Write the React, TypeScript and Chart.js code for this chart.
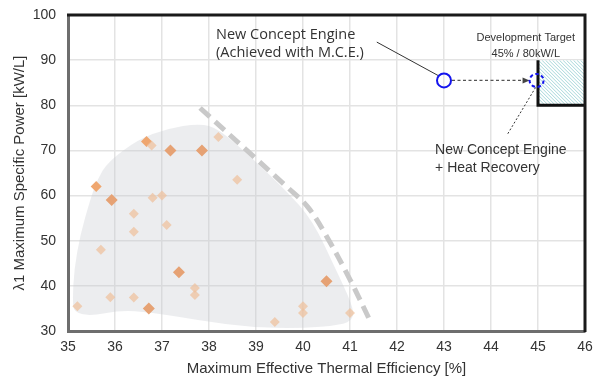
import React, { useEffect, useRef } from "react";
import { Chart, registerables } from "chart.js";
Chart.register(...registerables);

// ---- data ----
const lightEff = [36.78, 38.2, 38.6, 36.8, 37.0, 36.4, 36.4, 37.1, 35.7, 37.7, 37.7, 35.9, 36.4, 35.2, 39.4, 40.0, 40.0, 41.0];
const lightPow = [71.1, 73.0, 63.5, 59.5, 60.0, 56.0, 52.0, 53.5, 48.0, 39.5, 38.0, 37.5, 37.4, 35.5, 32.0, 35.5, 34.0, 34.0];
const midEff = [35.6, 36.67];
const midPow = [62.0, 72.0];
const darkEff = [35.93, 37.18, 37.85, 37.36, 36.72, 40.5];
const darkPow = [59.0, 70.0, 70.0, 43.0, 35.0, 41.0];

const frontierEff = [37.81, 38.87, 39.65, 40.1, 40.5, 41.0, 41.43];
const frontierPow = [79.4, 69.4, 62.0, 57.5, 51.0, 41.4, 32.2];

const blobEff = [35.1, 35.13, 35.26, 35.47, 35.62, 35.85, 36.5, 37.1, 37.8, 38.2, 38.9, 39.65, 40.2, 40.7, 41.05, 41.08, 40.8, 39.95, 38.9, 37.8, 36.75, 36.1, 35.47, 35.12];
const blobPow = [37.0, 43.6, 51.3, 59.0, 63.5, 67.5, 72.5, 74.8, 76.0, 74.8, 68.5, 61.0, 54.6, 43.6, 35.8, 32.6, 31.3, 30.6, 30.8, 32.3, 34.2, 34.6, 33.3, 34.2];

const mceEff = [43.0];
const mcePow = [85.5];
const heatEff = [44.97];
const heatPow = [85.5];

const targetEff = [45, 46];
const targetPow = [80, 90];

const xTickVals = [35, 36, 37, 38, 39, 40, 41, 42, 43, 44, 45, 46];
const yTickVals = [30, 40, 50, 60, 70, 80, 90, 100];

const xTitle = "Maximum Effective Thermal Efficiency [%]";
const yTitle = "λ1 Maximum Specific Power [kW/L]";
const mceLabel = ["New Concept Engine", "(Achieved with M.C.E.)"];
const heatLabel = ["New Concept Engine", "+ Heat Recovery"];
const targetLabel = ["Development Target", "45% / 80kW/L"];

const zip = (xs: number[], ys: number[]) => xs.map((x, i) => ({ x, y: ys[i] }));

const ARIAL = "'Liberation Sans', Arial, sans-serif";

const overlay = {
  id: "overlay",
  beforeDatasetsDraw(chart: any) {
    const { ctx, scales } = chart;
    const sx = scales.x, sy = scales.y;
    const px = (v: number) => sx.getPixelForValue(v);
    const py = (v: number) => sy.getPixelForValue(v);
    ctx.save();
    // grey envelope
    const pts = blobEff.map((v, i) => [px(v), py(blobPow[i])]);
    const n = pts.length;
    const mid = (a: number[], b: number[]) => [(a[0] + b[0]) / 2, (a[1] + b[1]) / 2];
    ctx.beginPath();
    const m0 = mid(pts[n - 1], pts[0]);
    ctx.moveTo(m0[0], m0[1]);
    for (let i = 0; i < n; i++) {
      const p = pts[i];
      const m = mid(p, pts[(i + 1) % n]);
      ctx.quadraticCurveTo(p[0], p[1], m[0], m[1]);
    }
    ctx.closePath();
    ctx.fillStyle = "rgba(200,203,208,0.34)";
    ctx.fill();

    // target hatch
    const x0 = px(targetEff[0]), x1 = px(targetEff[1]);
    const y0 = py(targetPow[1]), y1 = py(targetPow[0]);
    ctx.save();
    ctx.beginPath();
    ctx.rect(x0, y0, x1 - x0, y1 - y0);
    ctx.clip();
    ctx.fillStyle = "#ffffff";
    ctx.fillRect(x0, y0, x1 - x0, y1 - y0);
    ctx.strokeStyle = "#a6d7d9";
    ctx.lineWidth = 1;
    for (let k = -(y1 - y0); k < x1 - x0 + (y1 - y0); k += 3.5) {
      ctx.beginPath();
      ctx.moveTo(x0 + k, y0);
      ctx.lineTo(x0 + k + (y1 - y0), y1);
      ctx.stroke();
    }
    ctx.restore();
    ctx.restore();
  },
  afterDatasetsDraw(chart: any) {
    const { ctx, scales, chartArea } = chart;
    const sx = scales.x, sy = scales.y;
    const px = (v: number) => sx.getPixelForValue(v);
    const py = (v: number) => sy.getPixelForValue(v);
    ctx.save();

    // target border
    ctx.strokeStyle = "#111";
    ctx.lineWidth = 3;
    ctx.beginPath();
    ctx.moveTo(px(targetEff[0]), py(targetPow[1]));
    ctx.lineTo(px(targetEff[0]), py(targetPow[0]));
    ctx.lineTo(px(targetEff[1]), py(targetPow[0]));
    ctx.stroke();

    // frame top/right
    ctx.strokeStyle = "#1a1a1a";
    ctx.lineWidth = 3;
    ctx.beginPath();
    ctx.moveTo(chartArea.left - 1, chartArea.top);
    ctx.lineTo(chartArea.right, chartArea.top);
    ctx.lineTo(chartArea.right, chartArea.bottom + 1);
    ctx.stroke();

    const cx1 = px(mceEff[0]), cy1 = py(mcePow[0]);
    const cx2 = px(heatEff[0]), cy2 = py(heatPow[0]);

    // dashed arrow
    ctx.strokeStyle = "#555";
    ctx.fillStyle = "#444";
    ctx.lineWidth = 1.2;
    ctx.setLineDash([3, 2.5]);
    ctx.beginPath();
    ctx.moveTo(cx1 + 8, cy1);
    ctx.lineTo(cx2 - 13, cy2);
    ctx.stroke();
    ctx.setLineDash([]);
    ctx.beginPath();
    ctx.moveTo(cx2 - 7, cy2);
    ctx.lineTo(cx2 - 14, cy2 - 3);
    ctx.lineTo(cx2 - 14, cy2 + 3);
    ctx.closePath();
    ctx.fill();

    // leader to MCE circle
    ctx.strokeStyle = "#333";
    ctx.lineWidth = 1;
    ctx.beginPath();
    ctx.moveTo(px(41.57), py(94.0));
    ctx.lineTo(cx1 - 6, cy1 - 5);
    ctx.stroke();

    // dotted leader from heat circle
    ctx.setLineDash([2, 2]);
    ctx.beginPath();
    ctx.moveTo(cx2 - 1, cy2 + 7);
    ctx.lineTo(px(44.34), py(73.4));
    ctx.stroke();
    ctx.setLineDash([]);

    // dashed heat recovery circle
    ctx.strokeStyle = "#1414ee";
    ctx.lineWidth = 2;
    ctx.setLineDash([3.5, 2.5]);
    ctx.beginPath();
    ctx.ellipse(cx2, cy2, 7, 6.5, 0, 0, Math.PI * 2);
    ctx.stroke();
    ctx.setLineDash([]);

    // texts
    ctx.fillStyle = "#333";
    ctx.textBaseline = "middle";
    ctx.textAlign = "left";
    ctx.font = "14.5px 'Open Sans', sans-serif";
    ctx.fillText(mceLabel[0], px(38.15), py(95.6));
    ctx.fillText(mceLabel[1], px(38.15), py(91.6));

    ctx.font = `14px ${ARIAL}`;
    ctx.fillText(heatLabel[0], px(42.81), py(70.1));
    ctx.fillText(heatLabel[1], px(42.81), py(66.1));

    ctx.font = `11px ${ARIAL}`;
    ctx.textAlign = "center";
    ctx.fillText(targetLabel[0], px(44.74), py(94.9));
    ctx.fillText(targetLabel[1], px(44.74), py(91.4));

    // axis titles
    ctx.fillStyle = "#333";
    ctx.font = `15px ${ARIAL}`;
    ctx.textAlign = "center";
    ctx.fillText(xTitle, (chartArea.left + chartArea.right) / 2, chartArea.bottom + 38);
    ctx.translate(chartArea.left - 48, (chartArea.top + chartArea.bottom) / 2);
    ctx.rotate(-Math.PI / 2);
    ctx.fillText(yTitle, 0, 0);
    ctx.restore();
  },
};

export default function App() {
  const ref = useRef<HTMLCanvasElement | null>(null);
  useEffect(() => {
    if (!ref.current) return;
    const chart = new Chart(ref.current, {
      type: "scatter",
      data: {
        datasets: [
          {
            label: "frontier",
            data: zip(frontierEff, frontierPow),
            showLine: true,
            borderColor: "#c9c9c9",
            borderWidth: 5,
            borderDash: [13, 7],
            pointRadius: 0,
            tension: 0.35,
            fill: false,
          } as any,
          {
            label: "light",
            data: zip(lightEff, lightPow),
            pointStyle: "rectRot",
            pointRadius: 5,
            backgroundColor: "rgba(238,192,156,0.72)",
            borderWidth: 0,
          },
          {
            label: "mid",
            data: zip(midEff, midPow),
            pointStyle: "rectRot",
            pointRadius: 5.5,
            backgroundColor: "#efa66f",
            borderWidth: 0,
          },
          {
            label: "dark",
            data: zip(darkEff, darkPow),
            pointStyle: "rectRot",
            pointRadius: 6,
            backgroundColor: "#e6a274",
            borderWidth: 0,
          },
          {
            label: "mce",
            data: zip(mceEff, mcePow),
            pointStyle: "circle",
            pointRadius: 7,
            backgroundColor: "rgba(255,255,255,0)",
            borderColor: "#1414ee",
            borderWidth: 2,
          },
        ],
      },
      options: {
        animation: false,
        responsive: false,
        events: [],
        layout: { padding: { top: 15, right: 13, left: 0, bottom: 0 } },
        plugins: { legend: { display: false }, tooltip: { enabled: false }, title: { display: false } },
        scales: {
          x: {
            type: "linear",
            min: 35,
            max: 46,
            afterBuildTicks: (s: any) => { s.ticks = xTickVals.map((v) => ({ value: v })); },
            afterFit: (s: any) => { s.height = 47; s.paddingLeft = 0; s.paddingRight = 0; },
            grid: { color: "#e3e3e3", lineWidth: 1.5, drawTicks: false },
            border: { color: "#6e6e6e", width: 3 },
            ticks: { padding: 8, color: "#333", font: { size: 14, family: ARIAL } },
          },
          y: {
            type: "linear",
            min: 30,
            max: 100,
            afterBuildTicks: (s: any) => { s.ticks = yTickVals.map((v) => ({ value: v })); },
            afterFit: (s: any) => { s.width = 68; s.paddingTop = 0; s.paddingBottom = 0; },
            grid: { color: "#e3e3e3", lineWidth: 1.5, drawTicks: false },
            border: { color: "#6e6e6e", width: 3 },
            ticks: { padding: 12, color: "#333", font: { size: 14, family: ARIAL } },
          },
        },
      },
      plugins: [overlay],
    });
    return () => chart.destroy();
  }, []);
  return (
    <div style={{ position: "absolute", left: 0, top: 0, width: 598, height: 378, background: "#fff" }}>
      <canvas ref={ref} width={598} height={378} />
    </div>
  );
}
